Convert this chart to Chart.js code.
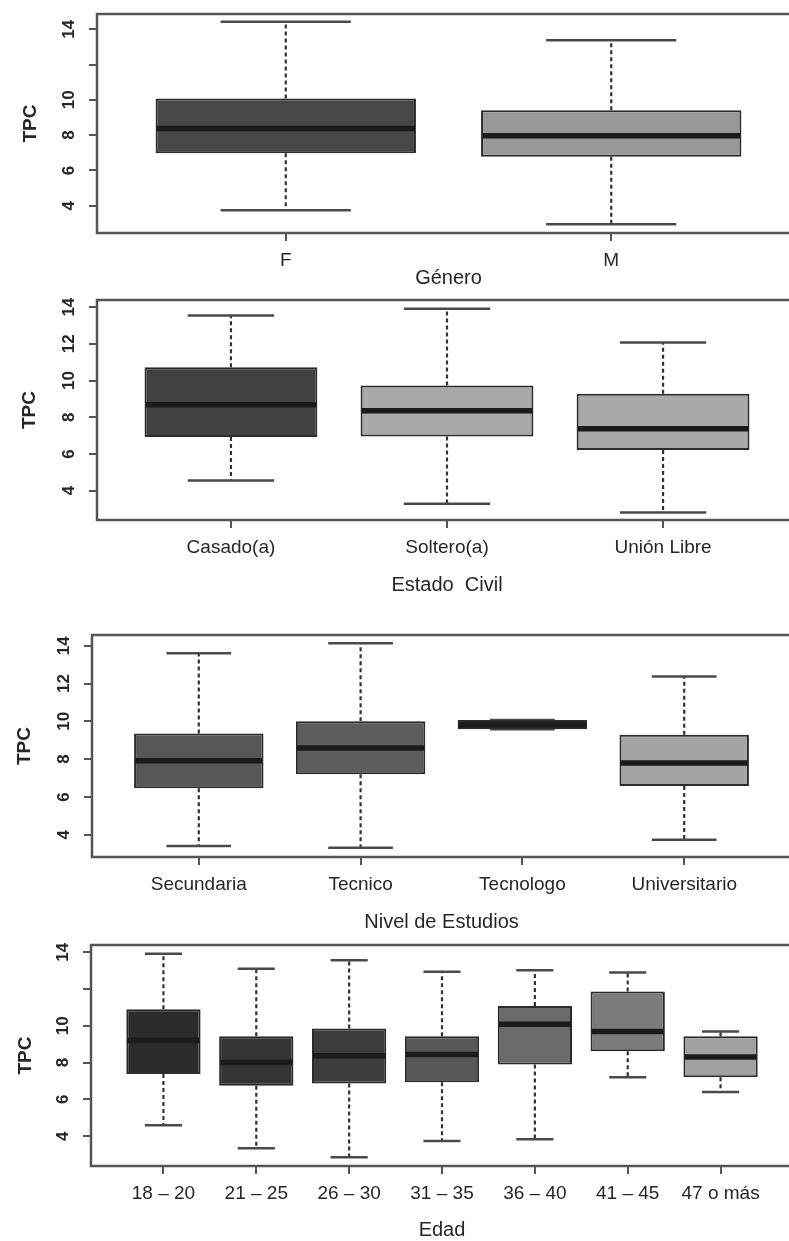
<!DOCTYPE html>
<html>
<head>
<meta charset="utf-8">
<script src="https://cdn.jsdelivr.net/npm/chart.js@4.4.0/dist/chart.umd.min.js"></script>
<style>
    html, body { margin: 0; padding: 0; background: #fff; }
    body { position: relative; width: 789px; height: 1241px; overflow: hidden; }
    canvas { position: absolute; left: 0; }
</style>
</head>
<body>
<canvas id="chartGenero"></canvas>
<canvas id="chartCivil"></canvas>
<canvas id="chartEstudios"></canvas>
<canvas id="chartEdad"></canvas>
<script>
// TPC por Género
const generoLabels = ['F', 'M'];
const generoMin = [3.74, 2.95];
const generoQ1 = [6.97, 6.78];
const generoMedian = [8.37, 7.96];
const generoQ3 = [10.08, 9.41];
const generoMax = [14.43, 13.38];

// TPC por Estado Civil
const civilLabels = ['Casado(a)', 'Soltero(a)', 'Unión Libre'];
const civilMin = [4.55, 3.28, 2.81];
const civilQ1 = [6.92, 6.95, 6.22];
const civilMedian = [8.68, 8.35, 7.37];
const civilQ3 = [10.73, 9.73, 9.28];
const civilMax = [13.54, 13.91, 12.07];

// TPC por Nivel de Estudios
const estudiosLabels = ['Secundaria', 'Tecnico', 'Tecnologo', 'Universitario'];
const estudiosMin = [3.40, 3.31, 9.58, 3.73];
const estudiosQ1 = [6.46, 7.20, 9.58, 6.58];
const estudiosMedian = [7.91, 8.59, 9.80, 7.80];
const estudiosQ3 = [9.36, 10.00, 10.07, 9.29];
const estudiosMax = [13.60, 14.13, 10.07, 12.38];

// TPC por Edad
const edadLabels = ['18 – 20', '21 – 25', '26 – 30', '31 – 35', '36 – 40', '41 – 45', '47 o más'];
const edadMin = [4.60, 3.34, 2.85, 3.74, 3.84, 7.20, 6.40];
const edadQ1 = [7.38, 6.74, 6.86, 6.93, 7.89, 8.62, 7.20];
const edadMedian = [9.20, 8.00, 8.37, 8.44, 10.09, 9.69, 8.30];
const edadQ3 = [10.90, 9.43, 9.85, 9.43, 11.08, 11.86, 9.43];
const edadMax = [13.92, 13.10, 13.56, 12.94, 13.02, 12.90, 9.69];

const yTickValues = [4, 6, 8, 10, 12, 14];

// box fill colours
const generoColors = ['#474747', '#999999'];
const civilColors = ['#414141', '#a9a9a9', '#a9a9a9'];
const estudiosColors = ['#575757', '#5d5d5d', '#2e2e2e', '#a4a4a4'];
const edadColors = ['#2b2b2b', '#343434', '#3c3c3c', '#575757', '#6b6b6b', '#7c7c7c', '#a1a1a1'];

const FONT_FAMILY = '"Liberation Sans", Arial, Helvetica, sans-serif';
const TEXT_COLOR = '#262626';
const CANVAS_WIDTH = 820;

const boxWhiskerPlugin = {
    id: 'boxWhisker',
    beforeDatasetsDraw(chart, args, opts) {
        const ctx = chart.ctx;
        const xScale = chart.scales.x;
        const yScale = chart.scales.y;
        const bars = chart.getDatasetMeta(0).data;
        ctx.save();
        opts.q1.forEach((q1, i) => {
            const x = xScale.getPixelForValue(i + 1);
            const capHalf = bars[i].width / 4;
            // dashed whiskers
            ctx.strokeStyle = '#333';
            ctx.lineWidth = 2.2;
            ctx.setLineDash([4, 3]);
            ctx.beginPath();
            ctx.moveTo(x, yScale.getPixelForValue(opts.q3[i]));
            ctx.lineTo(x, yScale.getPixelForValue(opts.max[i]));
            ctx.moveTo(x, yScale.getPixelForValue(q1));
            ctx.lineTo(x, yScale.getPixelForValue(opts.min[i]));
            ctx.stroke();
            // staples
            ctx.setLineDash([]);
            ctx.lineWidth = 2.5;
            ctx.strokeStyle = '#4a4a4a';
            ctx.beginPath();
            const yMax = yScale.getPixelForValue(opts.max[i]);
            const yMin = yScale.getPixelForValue(opts.min[i]);
            ctx.moveTo(x - capHalf, yMax);
            ctx.lineTo(x + capHalf, yMax);
            ctx.moveTo(x - capHalf, yMin);
            ctx.lineTo(x + capHalf, yMin);
            ctx.stroke();
        });
        ctx.restore();
    },
    afterDatasetsDraw(chart, args, opts) {
        const ctx = chart.ctx;
        const area = chart.chartArea;
        const xScale = chart.scales.x;
        const yScale = chart.scales.y;
        const bars = chart.getDatasetMeta(0).data;
        ctx.save();
        // medians
        ctx.strokeStyle = '#1b1b1b';
        ctx.lineWidth = 5.5;
        opts.median.forEach((m, i) => {
            const x = xScale.getPixelForValue(i + 1);
            const half = bars[i].width / 2 - 1;
            const y = yScale.getPixelForValue(m);
            ctx.beginPath();
            ctx.moveTo(x - half, y);
            ctx.lineTo(x + half, y);
            ctx.stroke();
        });
        // plot frame
        ctx.strokeStyle = '#555';
        ctx.lineWidth = 2.5;
        ctx.strokeRect(area.left, area.top, area.right - area.left, area.bottom - area.top);
        ctx.restore();
    }
};

function LoadBoxPanel(canvasId, panel) {
    const canvas = document.getElementById(canvasId);
    const topPad = 25;
    const canvasTop = panel.boxTop - topPad;
    const canvasBottom = Math.round(panel.titleY + 16);
    const canvasHeight = canvasBottom - canvasTop;
    canvas.width = CANVAS_WIDTH;
    canvas.height = canvasHeight;
    canvas.style.top = canvasTop + 'px';
    canvas.style.width = CANVAS_WIDTH + 'px';
    canvas.style.height = canvasHeight + 'px';

    const n = panel.labels.length;
    const xPad = 0.5 + 0.04 * n;
    const tickFont = { family: FONT_FAMILY, size: 19 };
    const titleFont = { family: FONT_FAMILY, size: 20 };

    new Chart(canvas.getContext('2d'), {
        type: 'bar',
        data: {
            datasets: [{
                data: panel.q1.map((v, i) => ({ x: i + 1, y: [v, panel.q3[i]] })),
                backgroundColor: panel.colors,
                borderColor: '#2b2b2b',
                borderWidth: 2,
                borderSkipped: false,
                barPercentage: 0.8,
                categoryPercentage: 1
            }]
        },
        options: {
            responsive: false,
            animation: false,
            events: [],
            layout: { padding: { top: topPad, right: CANVAS_WIDTH - panel.boxRight, bottom: 0, left: 0 } },
            plugins: {
                legend: { display: false },
                tooltip: { enabled: false },
                boxWhisker: {
                    min: panel.min, q1: panel.q1, median: panel.median, q3: panel.q3, max: panel.max
                }
            },
            scales: {
                x: {
                    type: 'linear',
                    offset: false,
                    min: 1 - xPad,
                    max: n + xPad,
                    afterBuildTicks: (scale) => {
                        scale.ticks = panel.labels.map((l, i) => ({ value: i + 1 }));
                    },
                    afterFit: (scale) => {
                        scale.height = canvasBottom - panel.boxBottom;
                    },
                    ticks: {
                        autoSkip: false,
                        maxRotation: 0,
                        padding: 8,
                        font: tickFont,
                        color: TEXT_COLOR,
                        callback: (value) => panel.labels[value - 1]
                    },
                    grid: { offset: false, drawOnChartArea: false, tickLength: 8, color: '#555', lineWidth: 2 },
                    border: { display: false },
                    title: {
                        display: true,
                        text: panel.title,
                        font: titleFont,
                        color: TEXT_COLOR,
                        padding: { top: 0, bottom: 4 }
                    }
                },
                y: {
                    min: panel.yMin,
                    max: panel.yMax,
                    afterBuildTicks: (scale) => {
                        scale.ticks = yTickValues.map(v => ({ value: v }));
                    },
                    afterFit: (scale) => {
                        scale.width = panel.boxLeft;
                    },
                    ticks: {
                        minRotation: 90,
                        maxRotation: 90,
                        crossAlign: 'center',
                        padding: 10,
                        font: { family: FONT_FAMILY, size: 17, weight: 'bold' },
                        color: TEXT_COLOR,
                        callback: (value) => (panel.hide12 && value === 12) ? '' : value
                    },
                    grid: { drawOnChartArea: false, tickLength: 8, color: '#555', lineWidth: 2 },
                    border: { display: false },
                    title: {
                        display: true,
                        text: 'TPC',
                        font: { family: FONT_FAMILY, size: 19, weight: 'bold' },
                        color: TEXT_COLOR,
                        padding: { top: panel.tpcX - 11.4, bottom: 0 }
                    }
                }
            }
        },
        plugins: [boxWhiskerPlugin]
    });
}

LoadBoxPanel('chartGenero', {
    labels: generoLabels, min: generoMin, q1: generoQ1, median: generoMedian, q3: generoQ3, max: generoMax,
    colors: generoColors, title: 'Género',
    boxTop: 14, boxBottom: 233, boxLeft: 97, boxRight: 800, yMin: 2.45, yMax: 14.87,
    titleY: 277.5, tpcX: 31, hide12: true
});

LoadBoxPanel('chartCivil', {
    labels: civilLabels, min: civilMin, q1: civilQ1, median: civilMedian, q3: civilQ3, max: civilMax,
    colors: civilColors, title: 'Estado  Civil',
    boxTop: 300, boxBottom: 520, boxLeft: 97, boxRight: 797, yMin: 2.40, yMax: 14.39,
    titleY: 585, tpcX: 30, hide12: false
});

LoadBoxPanel('chartEstudios', {
    labels: estudiosLabels, min: estudiosMin, q1: estudiosQ1, median: estudiosMedian, q3: estudiosQ3, max: estudiosMax,
    colors: estudiosColors, title: 'Nivel de Estudios',
    boxTop: 635, boxBottom: 857, boxLeft: 92, boxRight: 791, yMin: 2.82, yMax: 14.57,
    titleY: 921.5, tpcX: 25, hide12: false
});

LoadBoxPanel('chartEdad', {
    labels: edadLabels, min: edadMin, q1: edadQ1, median: edadMedian, q3: edadQ3, max: edadMax,
    colors: edadColors, title: 'Edad',
    boxTop: 945, boxBottom: 1166, boxLeft: 91, boxRight: 793, yMin: 2.38, yMax: 14.39,
    titleY: 1230, tpcX: 26, hide12: true
});
</script>
</body>
</html>
